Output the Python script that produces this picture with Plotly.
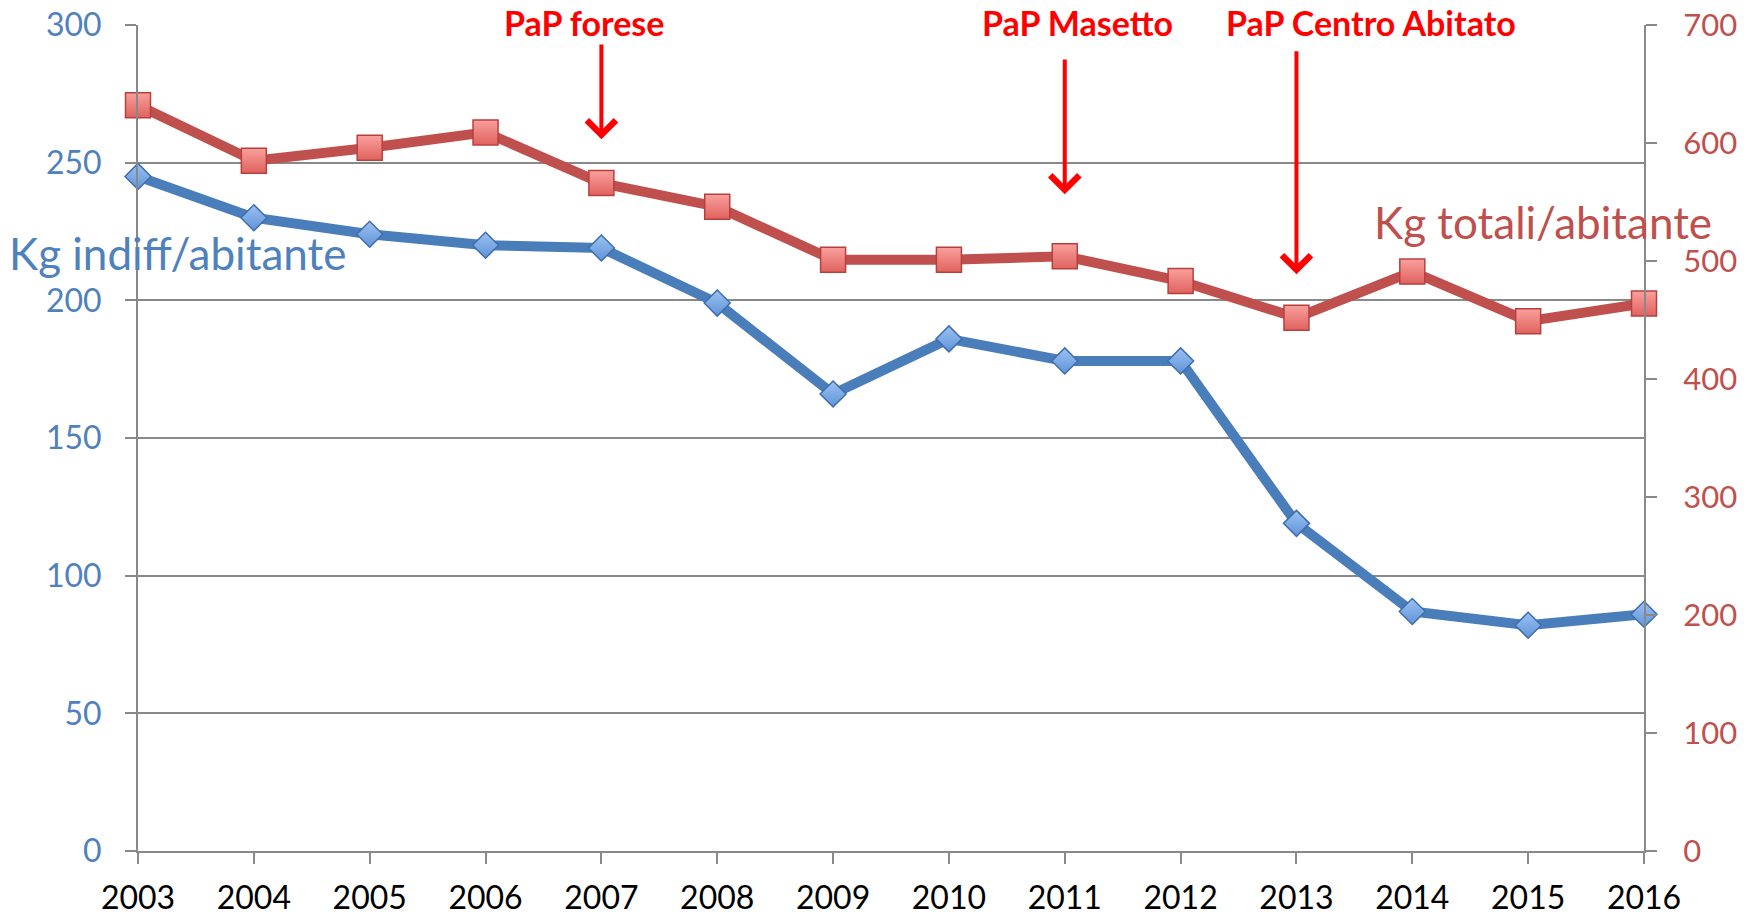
import plotly.graph_objects as go

years = [2003, 2004, 2005, 2006, 2007, 2008, 2009, 2010, 2011, 2012, 2013, 2014, 2015, 2016]
kg_indiff = [245, 230, 224, 220, 219, 199, 166, 186, 178, 178, 119, 87, 82, 86]
kg_totali = [632, 585, 596, 609, 566, 546, 501, 501, 504, 483, 452, 491, 449, 464]

left_ticks = [0, 50, 100, 150, 200, 250, 300]
right_ticks = [0, 100, 200, 300, 400, 500, 600, 700]

events = [
    {"label": "PaP forese", "year": 2007, "tail": 293.5, "head": 258.5, "text_x": 2006.85},
    {"label": "PaP Masetto", "year": 2011, "tail": 288.0, "head": 238.5, "text_x": 2011.11},
    {"label": "PaP Centro Abitato", "year": 2013, "tail": 291.0, "head": 209.5, "text_x": 2013.64},
]

BLUE = "#4A7EBB"
BLUE_TXT = "#4F81BD"
RED = "#C0504D"
GRAY = "#898989"
FONT = "Lato, Carlito, Calibri, sans-serif"

fig = go.Figure()

fig.add_trace(go.Scatter(
    x=years, y=kg_indiff, mode="lines+markers", yaxis="y",
    line=dict(color=BLUE, width=10),
    marker=dict(symbol="diamond", size=20, color="#9CC2F2",
                gradient=dict(type="vertical", color="#5F93D8"),
                line=dict(color="#3F6EAB", width=1.5)),
    cliponaxis=False, showlegend=False,
))
fig.add_trace(go.Scatter(
    x=years, y=kg_totali, mode="lines+markers", yaxis="y2",
    line=dict(color=RED, width=10),
    marker=dict(symbol="square", size=25, color="#F9A09E",
                gradient=dict(type="vertical", color="#E0625E"),
                line=dict(color="#B8403C", width=1.5)),
    cliponaxis=False, showlegend=False,
))

annotations = []
for ev in events:
    annotations.append(dict(
        x=ev["year"], y=ev["head"], xref="x", yref="y",
        ax=ev["year"], ay=ev["tail"], axref="x", ayref="y",
        showarrow=True, arrowhead=4, arrowsize=1.4, arrowwidth=4,
        arrowcolor="#FF0000", text="", standoff=0,
    ))
    annotations.append(dict(
        x=ev["text_x"], y=1.003, xref="x", yref="paper",
        text="<b>" + ev["label"] + "</b>", showarrow=False,
        xanchor="center", yanchor="middle",
        font=dict(family=FONT, size=34, color="#FF0000"),
    ))

annotations.append(dict(
    x=-0.087, y=0.724, xref="paper", yref="paper",
    text="Kg indiff/abitante", showarrow=False, xanchor="left", yanchor="middle",
    font=dict(family=FONT, size=44, color=BLUE_TXT),
))
annotations.append(dict(
    x=1.0465, y=0.762, xref="paper", yref="paper",
    text="Kg totali/abitante", showarrow=False, xanchor="right", yanchor="middle",
    font=dict(family=FONT, size=44, color=RED),
))

fig.update_layout(
    width=1756, height=917,
    margin=dict(l=138, r=112, t=25, b=66),
    paper_bgcolor="white", plot_bgcolor="white",
    font=dict(family=FONT, size=32, color="black"),
    xaxis=dict(
        range=[2003, 2016], tickmode="array", tickvals=years,
        ticktext=[str(y) for y in years], automargin=False,
        showgrid=False, zeroline=False, showline=True, linecolor=GRAY, linewidth=2,
        ticks="outside", ticklen=11, tickwidth=2, tickcolor=GRAY,
        tickfont=dict(family=FONT, size=32, color="black"),
        ticklabelstandoff=7,
    ),
    yaxis=dict(
        range=[0, 300], tickmode="array", tickvals=left_ticks, automargin=False,
        showgrid=True, gridcolor=GRAY, gridwidth=2, zeroline=False,
        showline=True, linecolor=GRAY, linewidth=2,
        ticks="outside", ticklen=11, tickwidth=2, tickcolor=GRAY,
        tickfont=dict(family=FONT, size=32, color=BLUE_TXT),
        ticklabelstandoff=17,
    ),
    yaxis2=dict(
        range=[0, 700], tickmode="array", tickvals=right_ticks, automargin=False,
        overlaying="y", side="right", showgrid=False, zeroline=False,
        showline=True, linecolor=GRAY, linewidth=2,
        ticks="outside", ticklen=11, tickwidth=2, tickcolor=GRAY,
        tickfont=dict(family=FONT, size=31, color=RED),
        ticklabelstandoff=20,
    ),
    annotations=annotations,
)

fig.write_html("out.html", config={"displayModeBar": False},
               post_script="document.body.style.margin='0';")
